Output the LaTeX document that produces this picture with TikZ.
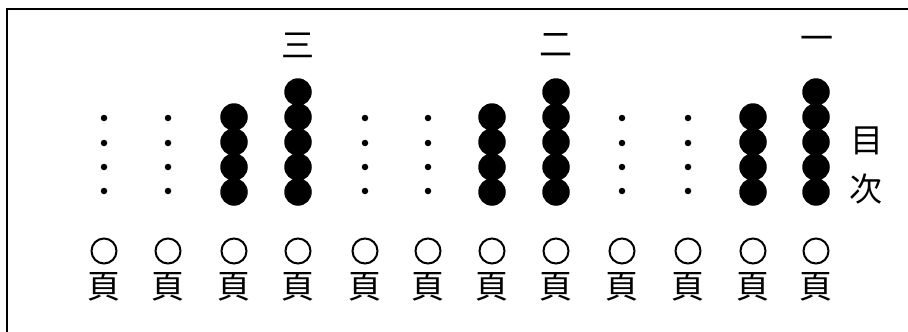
\documentclass[tikz,border=0pt]{standalone}
\usepackage{fontspec}
\newfontfamily\cjk{Noto Sans CJK JP}
\begin{document}
\begin{tikzpicture}[x=1pt,y=-1pt,
  bead/.style={circle,fill=black,inner sep=0pt,minimum size=27.5pt},
  pip/.style={circle,fill=black,inner sep=0pt,minimum size=6.5pt},
  ring/.style={circle,draw=black,line width=2pt,inner sep=0pt,minimum size=25pt},
  glyph/.style={font=\cjk\fontsize{33}{33}\selectfont,inner sep=0pt},
  frameline/.style={line width=2pt}]
\useasboundingbox (0,0) rectangle (908,332);
\draw[frameline] (7,340) -- (7,9) -- (915,9);
% columns
\foreach \i/\x in {1/104,2/168,3/234,4/298,5/365,6/428,7/492,8/556,9/622,10/688,11/753,12/816}{
  \node[ring] (r\i) at (\x,251) {};
  \node[glyph] (p\i) at (\x,287) {頁};
}
% small dots
\foreach \i/\x in {1/104,2/168,5/365,6/428,9/622,10/688}{
  \foreach \j/\y in {1/118,2/143,3/167,4/191}{
    \node[pip] (d\i-\j) at (\x,\y) {};
  }
}
% four-bead columns
\foreach \i/\x in {3/234,7/492,11/753}{
  \foreach \j/\y in {1/117,2/142,3/167,4/192}{
    \node[bead] (b\i-\j) at (\x,\y) {};
  }
}
% five-bead columns
\foreach \i/\x in {4/298,8/556,12/816}{
  \foreach \j/\y in {0/92,1/117,2/142,3/167,4/192}{
    \node[bead] (b\i-\j) at (\x,\y) {};
  }
}
\node[glyph] (san) at (298,45) {三};
\node[glyph] (ni) at (556,45) {二};
\node[glyph] (ichi) at (817,43) {一};
\node[glyph] (moku) at (867,141) {目};
\node[glyph] (ji) at (866,189) {次};
\end{tikzpicture}
\end{document}
